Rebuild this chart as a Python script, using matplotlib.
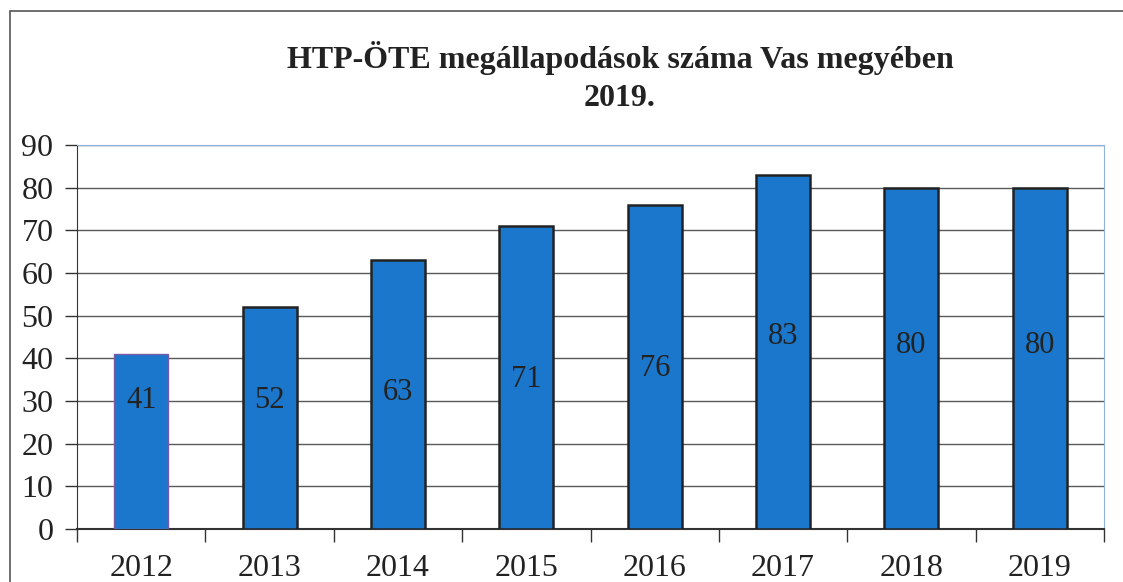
import numpy as np
import matplotlib.pyplot as plt
from matplotlib.patches import Rectangle

years = ['2012', '2013', '2014', '2015', '2016', '2017', '2018', '2019']
counts = [41, 52, 63, 71, 76, 83, 80, 80]
# where the value labels sit inside the bars (as in the scan)
label_heights = [30, 30, 32, 35, 37.5, 45, 43, 43]

TITLE = 'HTP-ÖTE megállapodások száma Vas megyében\n2019.'
BAR_COLOR = '#1a77cc'

plt.rcParams['font.family'] = ['Liberation Serif', 'DejaVu Serif']

fig = plt.figure(figsize=(11.23, 5.82), dpi=100)
ax = fig.add_axes([77 / 1123, 1 - 529 / 582, (1104 - 77) / 1123, (529 - 145) / 582])

x = np.arange(len(years))
bars = ax.bar(x, counts, width=0.42, color=BAR_COLOR, edgecolor='#222222',
              linewidth=1.8, zorder=3)
# first bar has a thin purplish outline in the original
bars[0].set_edgecolor('#7a5aa8')
bars[0].set_linewidth(1.0)

for xi, v, h in zip(x, counts, label_heights):
    ax.text(xi, h, str(v), ha='center', va='center', fontsize=22,
            color='#222222', zorder=4)

ax.set_xlim(-0.5, len(years) - 0.5)
ax.set_ylim(0, 90)
ax.set_yticks(np.arange(0, 91, 10))
ax.set_xticks(x)
ax.set_xticklabels(years)
ax.set_xticks(np.arange(-0.5, len(years), 1), minor=True)

ax.yaxis.grid(True, color='#5a5a5a', linewidth=1.0, zorder=0)
ax.set_axisbelow(True)

ax.tick_params(axis='y', length=9, width=1, color='#333333', pad=8,
               labelsize=23, labelcolor='#222222', direction='out')
ax.tick_params(axis='x', which='major', length=0, pad=18, labelsize=23,
               labelcolor='#222222')
ax.tick_params(axis='x', which='minor', length=9, width=1, color='#333333')

ax.spines['left'].set_color('#333333')
ax.spines['bottom'].set_color('#333333')
ax.spines['bottom'].set_linewidth(1.5)
ax.spines['top'].set_color('#8fb3dd')
ax.spines['right'].set_color('#8fb3dd')

fig.text(620 / 1123, 1 - 77 / 582, TITLE, ha='center', va='center',
         fontsize=23, fontweight='bold', color='#222222', linespacing=1.45)

# outer chart frame (cut off at right and bottom in the scan)
fig.patches.append(Rectangle((10 / 1123, -0.1), 1.2, 1 - 11 / 582 + 0.1,
                             transform=fig.transFigure, fill=False,
                             edgecolor='#555555', linewidth=1.2))

fig.savefig('out.png', dpi=100)
